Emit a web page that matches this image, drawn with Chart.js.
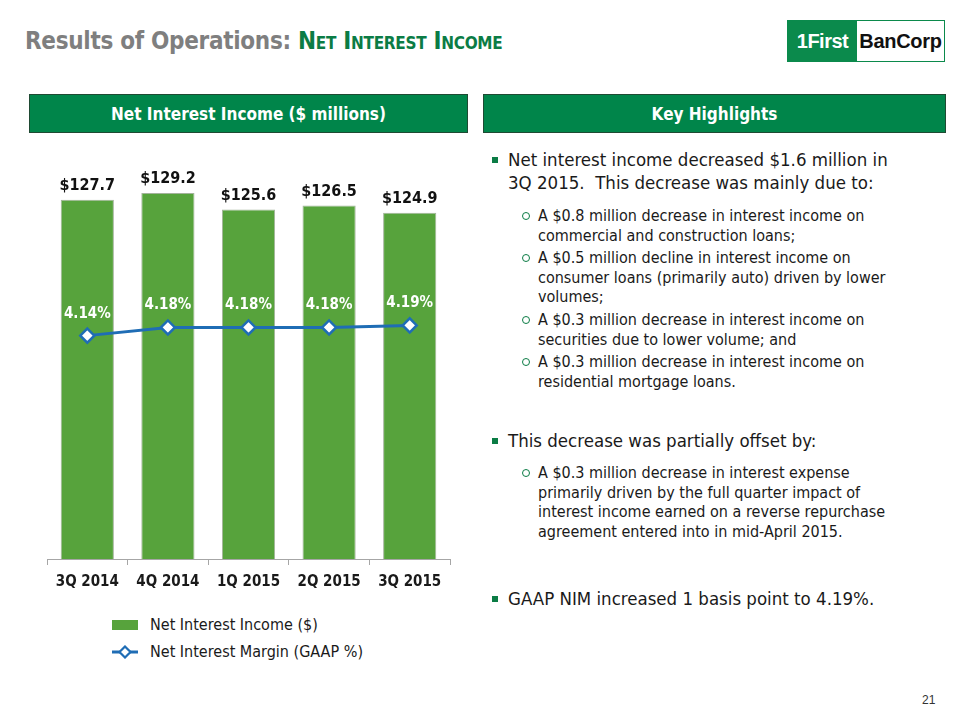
<!DOCTYPE html>
<html>
<head>
<script src="https://cdn.jsdelivr.net/npm/chart.js@4.4.0/dist/chart.umd.min.js"></script>
<style>
    body {
        margin: 0;
        width: 960px;
        height: 720px;
        position: relative;
        overflow: hidden;
        background: #fff;
        font-family: "DejaVu Sans Condensed", "DejaVu Sans", sans-serif;
        color: #1a1a1a;
    }
    .title {
        position: absolute; left: 25px; top: 27px;
        font-size: 24px; font-weight: bold; color: #7f7f7f; white-space: nowrap;
        letter-spacing: -0.3px;
    }
    .title span { color: #0b7c45; font-variant: small-caps; }
    .logo {
        position: absolute; left: 787px; top: 20px; width: 156px; height: 40px;
        border: 1px solid #0b8a4c; display: flex;
        font-family: "Liberation Sans", Arial, sans-serif; font-weight: bold; font-size: 20px;
    }
    .logo .l { width: 69px; background: #0b8a4c; color: #fff; display: flex; align-items: center; justify-content: center; letter-spacing: -0.5px; }
    .logo .r { flex: 1; color: #111; display: flex; align-items: center; justify-content: center; letter-spacing: -0.3px; }
    .hdr {
        position: absolute; top: 94px; height: 37px;
        background: #00854a; border: 1px solid #1f4a33;
        color: #fff; font-weight: bold; font-size: 17px;
        display: flex; align-items: center; justify-content: center;
    }
    .chart { position: absolute; left: 0; top: 130px; width: 480px; height: 480px; }
    .legend { position: absolute; left: 112px; top: 611px; font-size: 16px; }
    .legend div { height: 27px; display: flex; align-items: center; }
    .legend .sw { width: 26px; height: 10px; background: #57a33c; margin-right: 12px; }
    .legend svg { margin-right: 12px; }
    .blk { position: absolute; left: 508px; white-space: nowrap; }
    .main { font-size: 18.5px; line-height: 22.5px; }
    .main::before {
        content: ""; position: absolute; left: -16px; top: 8px;
        width: 6px; height: 6px; background: #0b7c45;
    }
    .sub { left: 538px; font-size: 16px; line-height: 19.5px; }
    .sub div { position: relative; margin-bottom: 3.3px; }
    .sub div::before {
        content: ""; position: absolute; left: -16px; top: 6px;
        width: 6px; height: 6px; border: 1px solid #0b7c45; border-radius: 50%;
    }
    .pg { position: absolute; left: 922px; top: 693px; font-size: 12px; color: #333; font-family: "Liberation Sans", Arial, sans-serif; }
</style>
</head>
<body>
    <div class="title">Results of Operations: <span>Net Interest Income</span></div>
    <div class="logo"><div class="l">1First</div><div class="r">BanCorp</div></div>
    <div class="hdr" style="left:29px;width:437px;">Net Interest Income ($ millions)</div>
    <div class="hdr" style="left:483px;width:461px;">Key Highlights</div>

    <div class="chart"><canvas id="nii"></canvas></div>
    <div class="legend">
        <div><span class="sw"></span>Net Interest Income ($)</div>
        <div><svg width="26" height="14"><line x1="0" y1="7" x2="26" y2="7" stroke="#1f6db5" stroke-width="3"/><path d="M13 1.5 L18.5 7 L13 12.5 L7.5 7 Z" fill="#fff" stroke="#1f6db5" stroke-width="2.2"/></svg>Net Interest Margin (GAAP %)</div>
    </div>

    <div class="blk main" style="top:149px;">Net interest income decreased $1.6 million in<br>3Q 2015.&nbsp; This decrease was mainly due to:</div>
    <div class="blk sub" style="top:206px;">
        <div>A $0.8 million decrease in interest income on<br>commercial and construction loans;</div>
        <div>A $0.5 million decline in interest income on<br>consumer loans (primarily auto) driven by lower<br>volumes;</div>
        <div>A $0.3 million decrease in interest income on<br>securities due to lower volume; and</div>
        <div>A $0.3 million decrease in interest income on<br>residential mortgage loans.</div>
    </div>
    <div class="blk main" style="top:430px;">This decrease was partially offset by:</div>
    <div class="blk sub" style="top:463px;">
        <div>A $0.3 million decrease in interest expense<br>primarily driven by the full quarter impact of<br>interest income earned on a reverse repurchase<br>agreement entered into in mid-April 2015.</div>
    </div>
    <div class="blk main" style="top:588px;">GAAP NIM increased 1 basis point to 4.19%.</div>
    <div class="pg">21</div>

    <script>
        const quarters = ['3Q 2014', '4Q 2014', '1Q 2015', '2Q 2015', '3Q 2015']
        const netInterestIncome = [127.7, 129.2, 125.6, 126.5, 124.9]
        const netInterestMargin = [4.14, 4.18, 4.18, 4.18, 4.19]

        const chartFont = '"DejaVu Sans Condensed", "DejaVu Sans", sans-serif'

        // value labels above bars and points
        const valueLabels = {
            id: 'valueLabels',
            afterDatasetsDraw(chart) {
                const ctx = chart.ctx
                ctx.save()
                ctx.textAlign = 'center'
                ctx.textBaseline = 'middle'
                chart.data.datasets.forEach((ds, i) => {
                    const meta = chart.getDatasetMeta(i)
                    meta.data.forEach((el, j) => {
                        const v = ds.data[j]
                        if (ds.type === 'line') {
                            ctx.font = 'bold 15px ' + chartFont
                            ctx.fillStyle = '#ffffff'
                            ctx.fillText(v.toFixed(2) + '%', el.x, el.y - 22)
                        } else {
                            ctx.font = 'bold 16px ' + chartFont
                            ctx.fillStyle = '#111111'
                            ctx.fillText('$' + v.toFixed(1), el.x, el.y - 14)
                        }
                    })
                })
                ctx.restore()
            }
        }

        new Chart(document.getElementById('nii').getContext('2d'), {
            type: 'bar',
            data: {
                labels: quarters,
                datasets: [{
                    type: 'line',
                    label: 'Net Interest Margin (GAAP %)',
                    data: netInterestMargin,
                    yAxisID: 'y2',
                    order: 0,
                    borderColor: '#1f6db5',
                    borderWidth: 3,
                    pointStyle: 'rectRot',
                    pointRadius: 7,
                    pointBackgroundColor: '#ffffff',
                    pointBorderColor: '#1f6db5',
                    pointBorderWidth: 2.5
                }, {
                    type: 'bar',
                    label: 'Net Interest Income ($)',
                    data: netInterestIncome,
                    yAxisID: 'y',
                    order: 1,
                    backgroundColor: '#57a33c',
                    borderColor: '#a3b39b',
                    borderWidth: 1,
                    barPercentage: 0.66,
                    categoryPercentage: 1
                }]
            },
            options: {
                animation: false,
                responsive: true,
                maintainAspectRatio: false,
                layout: { padding: { left: 47, right: 30, top: 13, bottom: 11 } },
                plugins: {
                    legend: { display: false },
                    tooltip: { enabled: false }
                },
                scales: {
                    x: {
                        grid: { offset: true, drawOnChartArea: false, tickLength: 6, color: '#a6a6a6' },
                        border: { color: '#a6a6a6' },
                        ticks: { color: '#1a1a1a', padding: 8, font: { family: chartFont, size: 15, weight: 'bold' } }
                    },
                    y: { display: false, min: 50, max: 140 },
                    y2: { display: false, position: 'right', min: 3.05, max: 5.08 }
                }
            },
            plugins: [valueLabels]
        });
    </script>
</body>
</html>
